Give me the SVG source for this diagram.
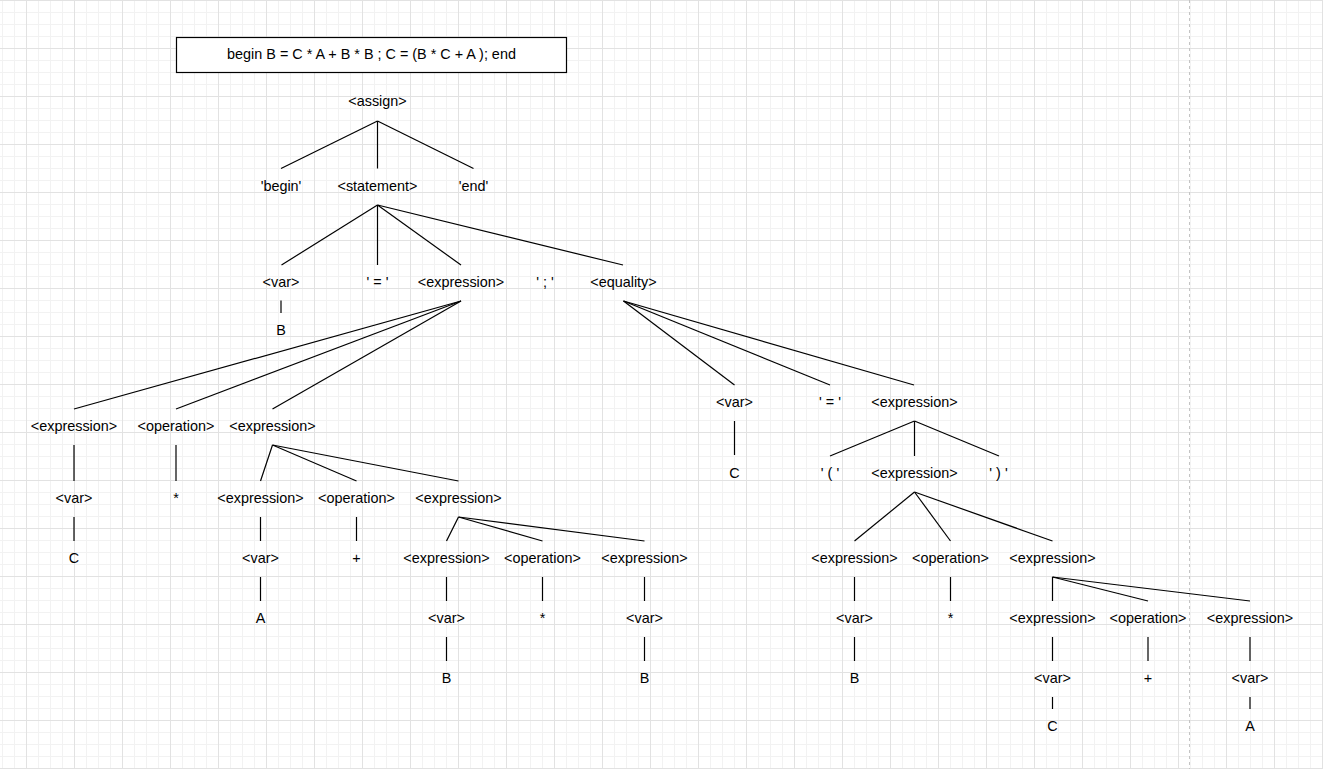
<svg xmlns="http://www.w3.org/2000/svg" width="1323" height="769" viewBox="0 0 1323 769">
<style>
text{font-family:"Liberation Sans",Arial,Helvetica,sans-serif;font-size:14.4px;fill:#000;text-anchor:middle}
.e line{stroke:#000;stroke-width:1.2;fill:none}
</style>
<defs>
<pattern id="minor" x="2" y="0" width="12" height="12" patternUnits="userSpaceOnUse"><path d="M0.5 0V12M0 0.5H12" stroke="#f2f2f2" stroke-width="1" fill="none"/></pattern>
<pattern id="major" x="26" y="0" width="48" height="48" patternUnits="userSpaceOnUse"><path d="M0.5 0V48M0 0.5H48" stroke="#e2e2e2" stroke-width="1" fill="none"/></pattern>
</defs>
<rect width="1323" height="769" fill="#fff"/>
<rect width="1323" height="769" fill="url(#minor)"/>
<rect width="1323" height="769" fill="url(#major)"/>
<line x1="1189.5" y1="0" x2="1189.5" y2="769" stroke="#c4c4c4" stroke-width="1" stroke-dasharray="3 3"/>
<g id="title"><rect x="176.5" y="37.5" width="390" height="35" fill="#fff" stroke="#000" stroke-width="1.2"/><text x="371.5" y="59">begin B = C * A + B * B ; C = (B * C + A ); end</text></g>
<g class="e" id="connectors">
<line x1="377.5" y1="121" x2="281" y2="168.5"/><line x1="377.5" y1="121" x2="377.5" y2="168.5"/><line x1="377.5" y1="121" x2="473.5" y2="168.5"/>
<line x1="377.5" y1="205" x2="281.5" y2="265"/><line x1="377.5" y1="205" x2="377.5" y2="265"/><line x1="377.5" y1="205" x2="461" y2="265"/><line x1="377.5" y1="205" x2="623" y2="265"/>
<line x1="281" y1="300.5" x2="281" y2="313"/>
<line x1="461" y1="301" x2="74" y2="409"/><line x1="461" y1="301" x2="176" y2="409"/><line x1="461" y1="301" x2="272.5" y2="409"/>
<line x1="74" y1="445" x2="74" y2="481"/><line x1="74" y1="517" x2="74" y2="541"/>
<line x1="176" y1="445" x2="176" y2="481"/>
<line x1="272.5" y1="445" x2="260.5" y2="481"/><line x1="272.5" y1="445" x2="356.5" y2="481"/><line x1="272.5" y1="445" x2="458.5" y2="481"/>
<line x1="260.5" y1="517" x2="260.5" y2="541"/><line x1="260.5" y1="577" x2="260.5" y2="601"/>
<line x1="356.5" y1="517" x2="356.5" y2="541"/>
<line x1="458.5" y1="517" x2="446.5" y2="541"/><line x1="458.5" y1="517" x2="542.5" y2="541"/><line x1="458.5" y1="517" x2="644.5" y2="541"/>
<line x1="446.5" y1="577" x2="446.5" y2="601"/><line x1="446.5" y1="637" x2="446.5" y2="661"/>
<line x1="542.5" y1="577" x2="542.5" y2="601"/>
<line x1="644.5" y1="577" x2="644.5" y2="601"/><line x1="644.5" y1="637" x2="644.5" y2="661"/>
<line x1="623.5" y1="301" x2="734.5" y2="385"/><line x1="623.5" y1="301" x2="830" y2="385"/><line x1="623.5" y1="301" x2="914" y2="385"/>
<line x1="734.5" y1="421" x2="734.5" y2="455"/>
<line x1="914.5" y1="421" x2="830" y2="456"/><line x1="914.5" y1="421" x2="914.5" y2="456"/><line x1="914.5" y1="421" x2="999" y2="456"/>
<line x1="914.5" y1="492" x2="854.5" y2="541"/><line x1="914.5" y1="492" x2="950.5" y2="541"/><line x1="914.5" y1="492" x2="1052.5" y2="541"/>
<line x1="854.5" y1="577" x2="854.5" y2="601"/><line x1="854.5" y1="637" x2="854.5" y2="661"/>
<line x1="950.5" y1="577" x2="950.5" y2="601"/>
<line x1="1052.5" y1="577" x2="1052.5" y2="601"/><line x1="1052.5" y1="577" x2="1148" y2="601"/><line x1="1052.5" y1="577" x2="1250" y2="601"/>
<line x1="1052.5" y1="637" x2="1052.5" y2="661"/><line x1="1052.5" y1="697" x2="1052.5" y2="709"/>
<line x1="1148" y1="637" x2="1148" y2="661"/>
<line x1="1250" y1="637" x2="1250" y2="661"/><line x1="1250" y1="697" x2="1250" y2="709"/>
</g>
<g id="n-assign"><text x="377.5" y="106">&lt;assign&gt;</text></g>
<g id="n-begin"><text x="281" y="191">'begin'</text></g>
<g id="n-statement"><text x="377.5" y="191">&lt;statement&gt;</text></g>
<g id="n-end"><text x="473.5" y="191">'end'</text></g>
<g id="n-var1"><text x="281" y="287">&lt;var&gt;</text></g>
<g id="n-eq1"><text x="377.5" y="287">' = '</text></g>
<g id="n-expr1"><text x="461" y="287">&lt;expression&gt;</text></g>
<g id="n-semi"><text x="545" y="287">' ; '</text></g>
<g id="n-equality"><text x="623.5" y="287">&lt;equality&gt;</text></g>
<g id="n-B1"><text x="281" y="335">B</text></g>
<g id="n-expr2"><text x="74" y="431">&lt;expression&gt;</text></g>
<g id="n-op1"><text x="176" y="431">&lt;operation&gt;</text></g>
<g id="n-expr3"><text x="272.5" y="431">&lt;expression&gt;</text></g>
<g id="n-var2"><text x="74" y="503">&lt;var&gt;</text></g>
<g id="n-star1"><text x="176" y="503">*</text></g>
<g id="n-expr4"><text x="260.5" y="503">&lt;expression&gt;</text></g>
<g id="n-op2"><text x="356.5" y="503">&lt;operation&gt;</text></g>
<g id="n-expr5"><text x="458.5" y="503">&lt;expression&gt;</text></g>
<g id="n-C1"><text x="74" y="563">C</text></g>
<g id="n-var3"><text x="260.5" y="563">&lt;var&gt;</text></g>
<g id="n-plus1"><text x="356.5" y="563">+</text></g>
<g id="n-expr6"><text x="446.5" y="563">&lt;expression&gt;</text></g>
<g id="n-op3"><text x="542.5" y="563">&lt;operation&gt;</text></g>
<g id="n-expr7"><text x="644.5" y="563">&lt;expression&gt;</text></g>
<g id="n-A1"><text x="260.5" y="623">A</text></g>
<g id="n-var4"><text x="446.5" y="623">&lt;var&gt;</text></g>
<g id="n-star2"><text x="542.5" y="623">*</text></g>
<g id="n-var5"><text x="644.5" y="623">&lt;var&gt;</text></g>
<g id="n-B2"><text x="446.5" y="683">B</text></g>
<g id="n-B3"><text x="644.5" y="683">B</text></g>
<g id="n-var6"><text x="734.5" y="407">&lt;var&gt;</text></g>
<g id="n-eq2"><text x="830" y="407">' = '</text></g>
<g id="n-expr8"><text x="914.5" y="407">&lt;expression&gt;</text></g>
<g id="n-C2"><text x="734.5" y="478">C</text></g>
<g id="n-lp"><text x="830" y="478">' ( '</text></g>
<g id="n-expr9"><text x="914.5" y="478">&lt;expression&gt;</text></g>
<g id="n-rp"><text x="998.5" y="478">' ) '</text></g>
<g id="n-expr10"><text x="854.5" y="563">&lt;expression&gt;</text></g>
<g id="n-op4"><text x="950.5" y="563">&lt;operation&gt;</text></g>
<g id="n-expr11"><text x="1052.5" y="563">&lt;expression&gt;</text></g>
<g id="n-var7"><text x="854.5" y="623">&lt;var&gt;</text></g>
<g id="n-star3"><text x="950.5" y="623">*</text></g>
<g id="n-expr12"><text x="1052.5" y="623">&lt;expression&gt;</text></g>
<g id="n-op5"><text x="1148" y="623">&lt;operation&gt;</text></g>
<g id="n-expr13"><text x="1250" y="623">&lt;expression&gt;</text></g>
<g id="n-B4"><text x="854.5" y="683">B</text></g>
<g id="n-var8"><text x="1052.5" y="683">&lt;var&gt;</text></g>
<g id="n-plus2"><text x="1148" y="683">+</text></g>
<g id="n-var9"><text x="1250" y="683">&lt;var&gt;</text></g>
<g id="n-C3"><text x="1052.5" y="731">C</text></g>
<g id="n-A2"><text x="1250" y="731">A</text></g>
</svg>
